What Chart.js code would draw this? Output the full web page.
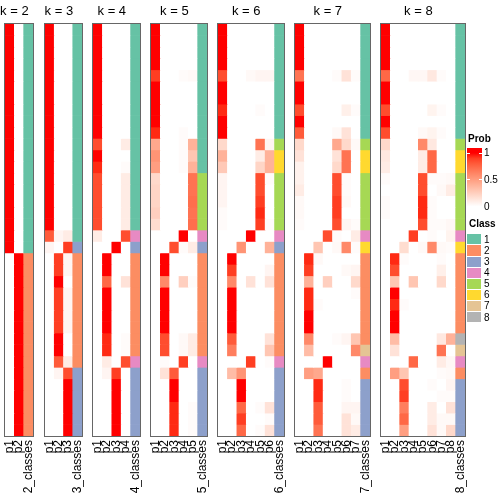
<!DOCTYPE html>
<html>
<head>
<meta charset="utf-8">
<script src="https://cdn.jsdelivr.net/npm/chart.js@4.4.0/dist/chart.umd.min.js"></script>
<style>
  html, body { margin: 0; padding: 0; background: #fff; }
  #wrap { position: relative; width: 504px; height: 504px; overflow: hidden;
          font-family: "Liberation Sans", Arial, sans-serif; }
  #wrap canvas { position: absolute; top: 0; }
  .lg { position: absolute; font-size: 10px; color: #000; line-height: 10px; }
  .lg-title { font-weight: bold; }
</style>
</head>
<body>
<div id="wrap"></div>
<script>
// --- data: membership probabilities per sample (rows) for each k, and the class of each sample ---
const probK2 = [
  [1,0],[1,0],[1,0],[1,0],[1,0],[1,0],[1,0],[1,0],[1,0],[1,0],
  [1,0],[1,0],[1,0],[1,0],[1,0],[1,0],[1,0],[1,0],[1,0],[1,0],
  [0,1],[0,1],[0,1],[0,1],[0,1],[0,1],[0,1],[0,1],
  [0,1],[0,1],[0,1],[0,1],[0,1],[0,1],[0,1],[0,1]
];
const classK2 = [1,1,1,1,1,1,1,1,1,1,1,1,1,1,1,1,1,1,1,1,2,2,2,2,2,2,2,2,2,2,2,2,2,2,2,2];

const probK3 = [
  [1,0,0],[1,0,0],[1,0,0],[1,0,0],[1,0,0],[1,0,0],[1,0,0],[1,0,0],[1,0,0],
  [1,0,0],[1,0,0],[1,0,0],[1,0,0],[1,0,0],[1,0,0],[1,0,0],[1,0,0],[1,0,0],
  [0.8,0.05,0.1],[0.05,0,0.9],
  [0,0.9,0.05],[0,0.9,0.05],[0,1,0],[0,0.9,0.05],[0,0.9,0.05],
  [0,0.9,0.05],[0,0.9,0.05],[0,1,0],[0,1,0],[0,0.8,0.1],
  [0,0.05,0.85],[0,0,1],[0,0,1],[0,0,1],[0,0,1],[0,0,1]
];
const classK3 = [1,1,1,1,1,1,1,1,1,1,1,1,1,1,1,1,1,1,1,3,2,2,2,2,2,2,2,2,2,2,3,3,3,3,3,3];

const probK4 = [
  [1,0,0,0],[1,0,0,0],[1,0,0,0],[1,0,0,0],[1,0,0,0],
  [1,0,0,0],[1,0,0,0],[1,0,0,0],[1,0,0,0],[1,0,0,0],
  [0.85,0,0,0.1],[1,0,0,0],[0.95,0,0,0.02],
  [0.85,0,0,0.1],[0.85,0,0,0.1],[0.85,0,0,0.1],[0.85,0,0,0.1],[0.85,0,0,0.1],
  [0.1,0,0,0.85],[0,0,1,0],
  [0,1,0,0],[0,1,0,0],[0,0.75,0,0.15],[0,1,0,0],[0,1,0,0],
  [0,1,0,0],[0,1,0,0],[0,0.95,0,0.02],[0,0.95,0,0.02],
  [0,0.1,0,0.85],[0,0.05,0.9,0],
  [0,0,1,0],[0,0,1,0],[0,0,1,0],[0,0,1,0],[0,0,1,0]
];
const classK4 = [1,1,1,1,1,1,1,1,1,1,1,1,1,1,1,1,1,1,4,3,2,2,2,2,2,2,2,2,2,4,3,3,3,3,3,3];

const probK5 = [
  [1,0,0,0,0],[1,0,0,0,0],[1,0,0,0,0],[1,0,0,0,0],
  [0.9,0,0,0.02,0.03],
  [1,0,0,0,0],[1,0,0,0,0],[1,0,0,0,0],[1,0,0,0,0],
  [0.95,0,0,0.02,0],
  [0.45,0,0,0.02,0.4],[0.55,0,0,0.02,0.3],[0.5,0,0,0.02,0.4],
  [0.2,0,0,0,0.7],[0.22,0,0,0,0.7],[0.22,0,0,0,0.72],[0.25,0,0,0,0.7],[0.18,0,0,0,0.72],
  [0,0,0,1,0],[0,0,0.85,0.02,0.1],
  [0,1,0,0,0],[0,1,0,0,0],[0,0.6,0,0.25,0.02],
  [0,1,0,0,0],[0,1,0,0,0],[0,1,0,0,0],[0,1,0,0,0],
  [0,0.85,0,0.03,0.1],[0,0.85,0,0.03,0.1],
  [0,0.02,0,0.9,0],[0,0.15,0.8,0,0],
  [0,0,1,0,0],[0,0,1,0,0],[0,0,0.95,0,0.02],[0,0,0.95,0,0.02],[0,0,0.95,0,0.02]
];
const classK5 = [1,1,1,1,1,1,1,1,1,1,1,1,1,5,5,5,5,5,4,3,2,2,2,2,2,2,2,2,2,4,3,3,3,3,3,3];

const probK6 = [
  [1,0,0,0,0,0],[1,0,0,0,0,0],[1,0,0,0,0,0],[1,0,0,0,0,0],
  [0.85,0,0,0.03,0.05,0.05],
  [1,0,0,0,0,0],[1,0,0,0,0,0],
  [0.95,0,0,0,0.02,0],
  [1,0,0,0,0,0],[1,0,0,0,0,0],
  [0.2,0,0,0,0.7,0.05],[0.4,0,0,0,0.1,0.4],[0.28,0,0,0,0.22,0.4],
  [0.05,0,0,0,0.85,0.02],[0.05,0,0,0,0.85,0],[0.05,0,0,0,0.9,0],
  [0.02,0,0,0,0.95,0],[0.02,0,0,0,0.9,0.02],
  [0,0,0,1,0,0],[0,0,0.55,0,0,0.4],
  [0,1,0,0,0,0],[0,0.9,0,0,0,0.05],[0,0.6,0,0.15,0,0.15],
  [0,1,0,0,0,0],[0,1,0,0,0,0],[0,1,0,0,0,0],[0,1,0,0,0,0],
  [0,0.8,0,0,0,0.15],[0,0.65,0,0,0,0.3],
  [0,0,0,0.9,0,0.02],[0,0.35,0.55,0,0,0],
  [0,0,1,0,0,0],[0,0,1,0,0,0],[0,0,0.75,0,0.02,0.15],[0,0,0.9,0,0,0.02],[0,0,0.75,0,0.02,0.15]
];
const classK6 = [1,1,1,1,1,1,1,1,1,1,5,6,6,5,5,5,5,5,4,3,2,2,2,2,2,2,2,2,2,4,3,3,3,3,3,3];

const probK7 = [
  [1,0,0,0,0,0,0],[1,0,0,0,0,0,0],[1,0,0,0,0,0,0],[1,0,0,0,0,0,0],
  [0.7,0,0,0,0.02,0.15,0.02],
  [1,0,0,0,0,0,0],[1,0,0,0,0,0,0],
  [0.85,0,0,0,0,0.08,0.02],
  [1,0,0,0,0,0,0],
  [0.8,0,0,0,0.03,0.15,0],
  [0.2,0,0,0,0.45,0.2,0.03],[0.15,0,0,0,0.15,0.7,0],[0.07,0,0,0,0.2,0.7,0],
  [0.07,0,0,0,0.85,0.02,0],[0.1,0,0,0,0.85,0.02,0],[0.03,0,0,0,0.9,0.03,0],
  [0.03,0,0,0,0.9,0,0],[0.02,0,0,0,0.85,0.05,0.02],
  [0,0,0,0.85,0.02,0,0.1],[0,0,0.3,0,0.03,0.6,0.02],
  [0,0.95,0.03,0,0,0,0],[0,0.9,0,0,0,0.03,0.05],[0,0.4,0,0.25,0,0,0.2],
  [0,0.95,0,0,0,0,0.02],[0,0.95,0.02,0,0,0,0],[0,1,0,0,0,0,0],[0,1,0,0,0,0,0],
  [0,0.6,0,0,0.02,0.05,0.3],[0,0.35,0,0,0,0,0.6],
  [0,0,0,1,0,0,0],[0,0.5,0.45,0,0,0,0],
  [0,0,0.95,0,0,0.02,0],[0,0,0.95,0,0,0.02,0],[0,0,0.8,0,0,0.05,0.05],
  [0,0,0.8,0,0,0.15,0.03],[0,0,0.7,0,0,0.15,0.1]
];
const classK7 = [1,1,1,1,1,1,1,1,1,1,5,6,6,5,5,5,5,5,4,6,2,2,2,2,2,2,2,2,7,4,2,3,3,3,3,3];

const probK8 = [
  [1,0,0,0,0,0,0,0],[1,0,0,0,0,0,0,0],[1,0,0,0,0,0,0,0],[1,0,0,0,0,0,0,0],
  [0.75,0,0,0.04,0.04,0.12,0.02,0],
  [1,0,0,0,0,0,0,0],[1,0,0,0,0,0,0,0],
  [0.85,0,0,0,0,0.06,0.02,0],
  [1,0,0,0,0,0,0,0],
  [0.85,0,0,0,0.03,0.06,0.02,0],
  [0.2,0,0,0,0.6,0.12,0,0],[0.12,0,0,0,0.1,0.75,0,0],[0.1,0,0,0,0.1,0.75,0,0],
  [0.02,0,0,0,0.85,0.02,0.02,0.03],[0,0,0,0,0.85,0,0.03,0.1],
  [0.02,0,0,0,0.95,0.02,0,0],[0.02,0,0,0,0.95,0.02,0,0],
  [0,0,0,0,0.85,0.02,0.02,0.04],
  [0,0,0,0.9,0,0.02,0,0.06],[0,0,0.18,0,0.03,0.6,0.03,0.02],
  [0,0.95,0.02,0,0,0,0.02,0],[0,0.85,0,0,0,0,0.08,0],[0,0.3,0,0.3,0,0,0.2,0],
  [0,1,0,0,0,0,0,0],[0,0.95,0.02,0,0,0,0,0],[0,1,0,0,0,0,0,0],[0,1,0,0,0,0,0,0],
  [0,0.35,0,0,0,0,0.12,0.4],[0,0.15,0,0,0,0,0.7,0],
  [0,0,0,0.75,0,0,0.1,0.04],[0,0.5,0.3,0,0,0,0.02,0.03],
  [0,0,0.85,0,0,0.02,0,0.05],[0,0,0.9,0,0,0,0.02,0.02],[0,0,0.65,0,0,0.1,0,0.15],
  [0,0,0.75,0,0,0.1,0.03,0.03],[0,0,0.5,0,0,0.15,0.03,0.2]
];
const classK8 = [1,1,1,1,1,1,1,1,1,1,5,6,6,5,5,5,5,5,4,6,2,2,2,2,2,2,2,8,7,4,2,3,3,3,3,3];

const panelK = [2, 3, 4, 5, 6, 7, 8];
const panelProbs = [probK2, probK3, probK4, probK5, probK6, probK7, probK8];
const panelClasses = [classK2, classK3, classK4, classK5, classK6, classK7, classK8];
const classNames = ['1', '2', '3', '4', '5', '6', '7', '8'];
const probTicks = ['1', '0.5', '0'];

// --- styling / layout ---
const classColors = ['#66C2A5', '#FC8D62', '#8DA0CB', '#E78AC3', '#A6D854', '#FFD92F', '#E5C494', '#B3B3B3'];
const panelLeft  = [5, 45, 93, 151, 218, 295, 381];
const panelRight = [33, 82, 140, 207, 284, 370, 465];
const PANEL_TOP = 24, PANEL_BOTTOM = 436, SIDE = 10, CANVAS_H = 504;
const FONT = '"Liberation Sans", Arial, sans-serif';

// white -> red interpolated in CIE Lab (like colorRamp2)
const LAB_WHITE = [100, 0, 0];
const LAB_RED = [53.24, 80.09, 67.2];
function labToRgb(L, a, b) {
  const fy = (L + 16) / 116, fx = a / 500 + fy, fz = fy - b / 200;
  const inv = t => (t * t * t > 0.008856 ? t * t * t : (t - 16 / 116) / 7.787);
  const X = 0.95047 * inv(fx), Y = inv(fy), Z = 1.08883 * inv(fz);
  const lin = [
    3.2406 * X - 1.5372 * Y - 0.4986 * Z,
    -0.9689 * X + 1.8758 * Y + 0.0415 * Z,
    0.0557 * X - 0.2040 * Y + 1.0570 * Z
  ];
  return lin.map(v => {
    const s = v > 0.0031308 ? 1.055 * Math.pow(v, 1 / 2.4) - 0.055 : 12.92 * v;
    return Math.round(255 * Math.min(1, Math.max(0, s)));
  });
}
function probColor(p) {
  const lab = LAB_WHITE.map((w, i) => w + (LAB_RED[i] - w) * p);
  const [r, g, b] = labToRgb(lab[0], lab[1], lab[2]);
  return 'rgb(' + r + ',' + g + ',' + b + ')';
}

// frame around each heatmap + "k = n" title centred over the probability columns
const panelDeco = {
  id: 'panelDeco',
  afterDatasetsDraw(chart) {
    const { ctx, chartArea: a } = chart;
    const xs = chart.scales.x;
    const k = chart.options.plugins.panelDeco.k;
    ctx.save();
    ctx.strokeStyle = '#666';
    ctx.lineWidth = 1;
    ctx.strokeRect(a.left - 0.5, a.top - 0.5, a.width + 1, a.height + 1);
    const half = (xs.getPixelForValue(1) - xs.getPixelForValue(0)) / 2;
    const cx = (xs.getPixelForValue(0) - half + xs.getPixelForValue(k - 1) + half) / 2;
    ctx.fillStyle = '#000';
    ctx.font = '13px ' + FONT;
    ctx.textAlign = 'center';
    ctx.textBaseline = 'middle';
    ctx.fillText('k = ' + k, cx, 11);
    ctx.restore();
  }
};

const wrap = document.getElementById('wrap');

panelK.forEach((k, idx) => {
  const probs = panelProbs[idx];
  const classes = panelClasses[idx];
  const labels = [];
  for (let j = 1; j <= k; j++) labels.push('p' + j);
  labels.push(k + '_classes');

  const datasets = probs.map((row, r) => ({
    label: 'sample ' + (r + 1),
    data: labels.map(() => 1),
    backgroundColor: row.map(probColor).concat(classColors[classes[r] - 1]),
    borderWidth: 0,
    barPercentage: 1,
    categoryPercentage: 1
  }));

  const cv = document.createElement('canvas');
  const w = panelRight[idx] - panelLeft[idx] + 2 * SIDE;
  cv.width = w;
  cv.height = CANVAS_H;
  cv.style.left = (panelLeft[idx] - SIDE) + 'px';
  wrap.appendChild(cv);

  new Chart(cv, {
    type: 'bar',
    data: { labels: labels, datasets: datasets },
    options: {
      responsive: false,
      animation: false,
      events: [],
      layout: { padding: { top: PANEL_TOP, left: SIDE, right: SIDE, bottom: 0 } },
      plugins: {
        legend: { display: false },
        tooltip: { enabled: false },
        panelDeco: { k: k }
      },
      scales: {
        x: {
          stacked: true,
          grid: { display: false, drawTicks: false },
          border: { display: false },
          ticks: {
            autoSkip: false,
            maxRotation: 90,
            minRotation: 90,
            padding: 4,
            color: '#000',
            font: { size: 12, family: FONT }
          },
          afterFit(scale) {
            scale.height = CANVAS_H - PANEL_BOTTOM;
            scale.paddingLeft = 0;
            scale.paddingRight = 0;
          }
        },
        y: {
          stacked: true,
          reverse: true,
          min: 0,
          max: probs.length,
          display: false
        }
      }
    },
    plugins: [panelDeco]
  });
});

// --- legends ---
function addDiv(cls, text, css) {
  const d = document.createElement('div');
  d.className = cls;
  if (text !== null) d.textContent = text;
  Object.assign(d.style, css);
  wrap.appendChild(d);
  return d;
}

addDiv('lg lg-title', 'Prob', { left: '468px', top: '134px' });
const BAR_TOP = 148, BAR_H = 63, V1 = 153, V0 = 206.5;
const stops = [];
for (let i = 0; i <= 10; i++) {
  const p = 1 - i / 10;
  stops.push(probColor(p) + ' ' + (V1 - BAR_TOP + (V0 - V1) * i / 10).toFixed(1) + 'px');
}
const bar = addDiv('lg', null, {
  left: '467px', top: BAR_TOP + 'px', width: '15px', height: BAR_H + 'px',
  background: 'linear-gradient(to bottom, ' + probColor(1) + ' 0px, ' + stops.join(', ') + ', #fff ' + BAR_H + 'px)'
});
probTicks.forEach((t, i) => {
  const y = V1 + (V0 - V1) * i / 2;
  addDiv('lg', t, { left: '484px', top: (y - 5) + 'px' });
  addDiv('lg', null, { left: '467px', top: (y - 0.5) + 'px', width: '3px', height: '1px', background: '#fff' });
  addDiv('lg', null, { left: '479px', top: (y - 0.5) + 'px', width: '3px', height: '1px', background: '#fff' });
});

addDiv('lg lg-title', 'Class', { left: '469px', top: '219px' });
classNames.forEach((name, i) => {
  const top = 234.3 + i * 11.1;
  addDiv('lg', null, { left: '467px', top: top + 'px', width: '14px', height: '10.2px', background: classColors[i] });
  addDiv('lg', name, { left: '484px', top: (top + 0.5) + 'px' });
});
</script>
</body>
</html>
